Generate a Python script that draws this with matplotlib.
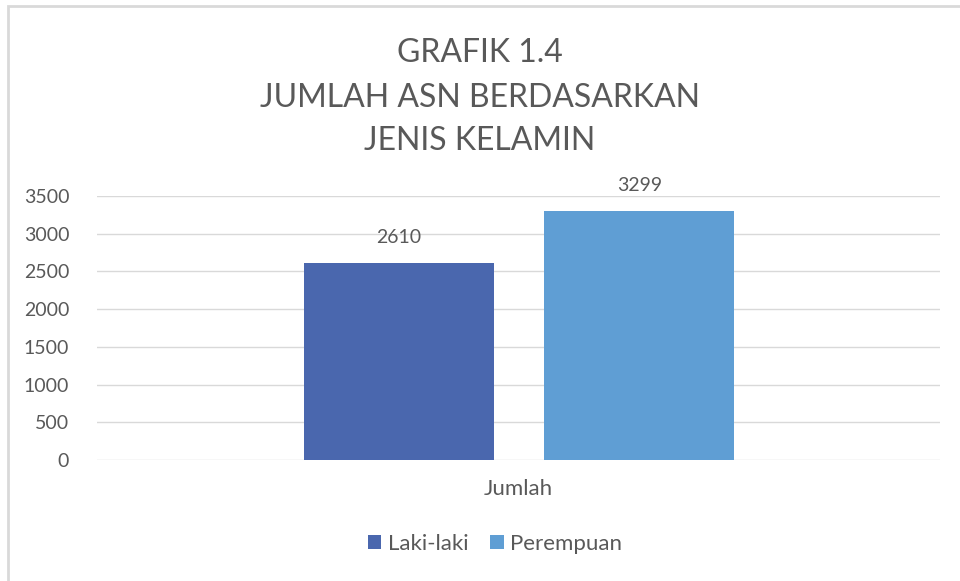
import matplotlib.pyplot as plt
from matplotlib.patches import Rectangle

# data
series = ['Laki-laki', 'Perempuan']
values = [2610, 3299]
colors = ['#4A67AE', '#5F9ED4']
category = 'Jumlah'
yticks = [0, 500, 1000, 1500, 2000, 2500, 3000, 3500]
title_lines = ['GRAFIK 1.4', 'JUMLAH ASN BERDASARKAN', 'JENIS KELAMIN']

plt.rcParams['font.family'] = ['Lato', 'DejaVu Sans']
grey = '#595959'

fig = plt.figure(figsize=(9.6, 5.81), dpi=100)
ax = fig.add_axes([97 / 960, 1 - 460 / 581, (940 - 97) / 960, (460 - 196) / 581])

offsets = [-0.1418, 0.1435]
width = 0.2254
for name, v, c, off in zip(series, values, colors, offsets):
    ax.bar(off, v, width=width, color=c, label=name, zorder=3)
    ax.annotate(str(v), (off, v), xytext=(0, 12), textcoords='offset points',
                ha='center', va='bottom', fontsize=14, color=grey)

ax.set_xlim(-0.5, 0.5)
ax.set_ylim(0, 3500)
ax.set_yticks(yticks)
ax.set_xticks([0])
ax.set_xticklabels([category], fontsize=16)
ax.tick_params(axis='both', length=0, colors=grey)
ax.tick_params(axis='y', labelsize=14, pad=20)
ax.tick_params(axis='x', pad=14)
ax.grid(axis='y', color='#D9D9D9', linewidth=1, zorder=0)
for s in ax.spines.values():
    s.set_visible(False)

# title, one line at a time
for txt, ypx in zip(title_lines, [53, 98, 141]):
    fig.text(0.5, 1 - ypx / 581, txt, ha='center', va='center', fontsize=23,
             color=grey)

leg = ax.legend(loc='center', bbox_to_anchor=(495 / 960, 1 - 544 / 581),
                bbox_transform=fig.transFigure, ncol=2, frameon=False,
                fontsize=16, handlelength=0.6, handleheight=0.6,
                handletextpad=0.3, columnspacing=1.0)
for t in leg.get_texts():
    t.set_color(grey)

fig.patches.append(Rectangle((8 / 960, -0.1), 1.2, 1 - 5 / 581 + 0.1 - 1 / 581,
                             transform=fig.transFigure, fill=False,
                             edgecolor='#D9D9D9', linewidth=2))

fig.savefig('out.png', dpi=100)
